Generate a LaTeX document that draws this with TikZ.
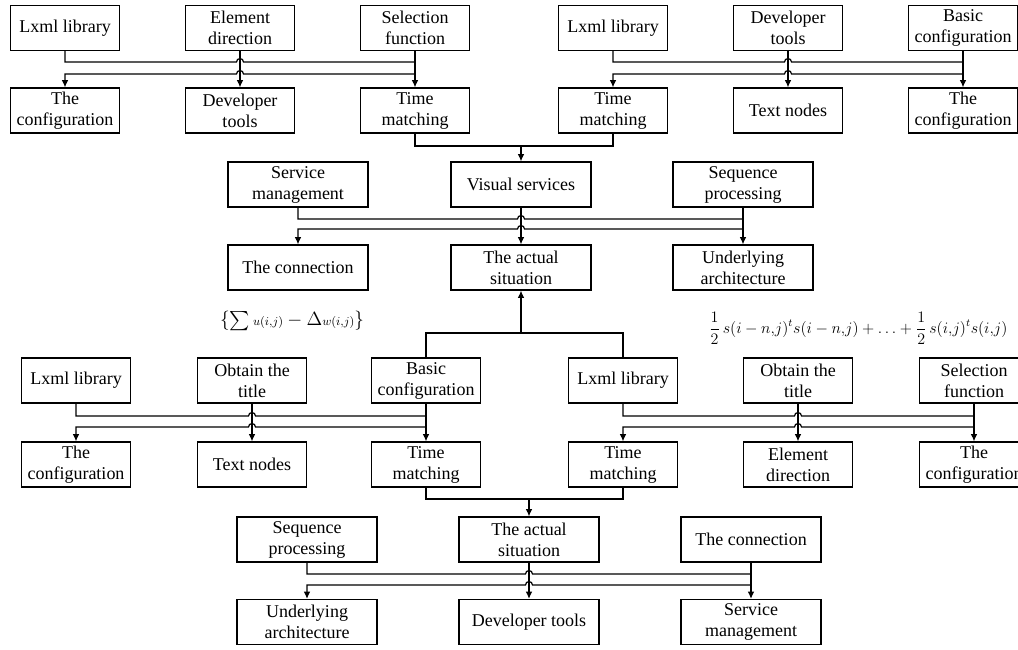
\documentclass[tikz,border=0pt]{standalone}
\usepackage{amsmath}
\usepackage{fontspec}
\setmainfont{Liberation Serif}
\usepackage{tikz}
\usetikzlibrary{arrows.meta,calc}
\tikzset{
  blk/.style={draw,line width=0.9pt,align=center,inner sep=0pt,
    minimum width=81.75pt,minimum height=33.75pt,
    font=\fontsize{13.5}{15.75}\selectfont},
  wblk/.style={blk,minimum width=105pt},
  arr/.style={-{Latex[length=5.5pt,width=5pt]}},
}

\begin{document}
\begin{tikzpicture}[x=0.75pt,y=-0.75pt,line width=0.9pt]
    \useasboundingbox (0,0) rectangle (1018,650);

    % top left group
    \node[blk] (lxA) at (65,28) {Lxml library};
    \node[blk] (elA) at (240,28) {Element\\direction};
    \node[blk] (selA) at (415,28) {Selection\\function};
    \node[blk] (cfA) at (65,110.5) {The\\configuration};
    \node[blk] (dtA) at (240,110.5) {Developer\\tools};
    \node[blk] (tmA) at (415,110.5) {Time\\matching};
    \draw (lxA.south) |- ($(elA.south|-0,62)+(-3.5,0)$) arc[start angle=180,end angle=0,radius=2.625pt] -| (selA.south);
    \draw[arr] (selA.south|-0,74) -- ($(elA.south|-0,74)+(3.5,0)$) arc[start angle=0,end angle=180,radius=2.625pt] -| (cfA.north);
    \draw[arr] (selA) -- (tmA);
    \draw[arr] (elA) -- (dtA);

    % top right group
    \node[blk] (lxB) at (613,28) {Lxml library};
    \node[blk] (dtB) at (788,28) {Developer\\tools};
    \node[blk] (bcB) at (963,28) {Basic\\configuration};
    \node[blk] (tmB) at (613,110.5) {Time\\matching};
    \node[blk] (txB) at (788,110.5) {Text nodes};
    \node[blk] (cfB) at (963,110.5) {The\\configuration};
    \draw (lxB.south) |- ($(dtB.south|-0,62)+(-3.5,0)$) arc[start angle=180,end angle=0,radius=2.625pt] -| (bcB.south);
    \draw[arr] (bcB.south|-0,74) -- ($(dtB.south|-0,74)+(3.5,0)$) arc[start angle=0,end angle=180,radius=2.625pt] -| (tmB.north);
    \draw[arr] (bcB) -- (cfB);
    \draw[arr] (dtB) -- (txB);

    % middle group
    \node[wblk] (svm) at (298,184.5) {Service\\management};
    \node[wblk] (vis) at (521,184.5) {Visual services};
    \node[wblk] (seq) at (743,184.5) {Sequence\\processing};
    \node[wblk] (con) at (298,267.5) {The connection};
    \node[wblk] (act) at (521,267.5) {The actual\\situation};
    \node[wblk] (und) at (743,267.5) {Underlying\\architecture};
    \draw (tmA.south) |- (tmB.south|-0,146) -- (tmB.south);
    \draw[arr] (vis.north|-0,146) -- (vis);
    \draw (svm.south) |- ($(vis.south|-0,219)+(-3.5,0)$) arc[start angle=180,end angle=0,radius=2.625pt] -| (seq.south);
    \draw[arr] (seq.south|-0,229) -- ($(vis.south|-0,229)+(3.5,0)$) arc[start angle=0,end angle=180,radius=2.625pt] -| (con.north);
    \draw[arr] (seq) -- (und);
    \draw[arr] (vis) -- (act);

    % formulas
    \node[font=\fontsize{13.5}{15.75}\selectfont] (fmA) at (292,321)
      {$\{\sum{\scriptstyle u(i,j)} - \Delta{\scriptstyle w(i,j)}\}$};
    \node[font=\fontsize{12}{14}\selectfont,anchor=east,inner sep=0pt] (fmB) at (1008,328)
      {$\displaystyle\frac{1}{2}\,s(i-n{,}j)^t s(i-n{,}j)+\ldots+\frac{1}{2}\,s(i{,}j)^t s(i{,}j)$};

    % lower left group
    \node[blk] (lxC) at (76,380.5) {Lxml library};
    \node[blk] (obC) at (252,380.5) {Obtain the\\title};
    \node[blk] (bcC) at (426,380.5) {Basic\\configuration};
    \node[blk] (cfC) at (76,464.5) {The\\configuration};
    \node[blk] (txC) at (252,464.5) {Text nodes};
    \node[blk] (tmC) at (426,464.5) {Time\\matching};
    \draw (lxC.south) |- ($(obC.south|-0,416)+(-3.5,0)$) arc[start angle=180,end angle=0,radius=2.625pt] -| (bcC.south);
    \draw[arr] (bcC.south|-0,427) -- ($(obC.south|-0,427)+(3.5,0)$) arc[start angle=0,end angle=180,radius=2.625pt] -| (cfC.north);
    \draw[arr] (bcC) -- (tmC);
    \draw[arr] (obC) -- (txC);

    % lower right group
    \node[blk] (lxD) at (623,380.5) {Lxml library};
    \node[blk] (obD) at (798,380.5) {Obtain the\\title};
    \node[blk] (sfD) at (974,380.5) {Selection\\function};
    \node[blk] (tmD) at (623,464.5) {Time\\matching};
    \node[blk] (edD) at (798,464.5) {Element\\direction};
    \node[blk] (cfD) at (974,464.5) {The\\configuration};
    \draw (lxD.south) |- ($(obD.south|-0,416)+(-3.5,0)$) arc[start angle=180,end angle=0,radius=2.625pt] -| (sfD.south);
    \draw[arr] (sfD.south|-0,427) -- ($(obD.south|-0,427)+(3.5,0)$) arc[start angle=0,end angle=180,radius=2.625pt] -| (tmD.north);
    \draw[arr] (sfD) -- (cfD);
    \draw[arr] (obD) -- (edD);

    % up to the middle group
    \draw (bcC.north) |- (lxD.north|-0,333) -- (lxD.north);
    \draw[arr] (act.south|-0,333) -- (act);

    % bottom group
    \node[wblk] (sqE) at (307,539.5) {Sequence\\processing};
    \node[wblk] (acE) at (529,539.5) {The actual\\situation};
    \node[wblk] (cnE) at (751,539.5) {The connection};
    \node[wblk] (uaE) at (307,622) {Underlying\\architecture};
    \node[wblk] (dvE) at (529,622) {Developer tools};
    \node[wblk] (smE) at (751,622) {Service\\management};
    \draw (tmC.south) |- (tmD.south|-0,499) -- (tmD.south);
    \draw[arr] (acE.north|-0,499) -- (acE);
    \draw (sqE.south) |- ($(acE.south|-0,574)+(-3.5,0)$) arc[start angle=180,end angle=0,radius=2.625pt] -| (cnE.south);
    \draw[arr] (cnE.south|-0,585) -- ($(acE.south|-0,585)+(3.5,0)$) arc[start angle=0,end angle=180,radius=2.625pt] -| (uaE.north);
    \draw[arr] (cnE) -- (smE);
    \draw[arr] (acE) -- (dvE);
\end{tikzpicture}
\end{document}
